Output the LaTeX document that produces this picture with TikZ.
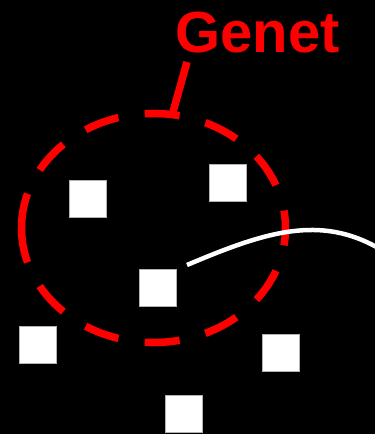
\documentclass[tikz,border=0pt]{standalone}
\usepackage{fontspec}
\setmainfont{Liberation Sans}
\begin{document}
\begin{tikzpicture}[x=1pt,y=-1pt,
  sq/.style={draw=gray!60,line width=0.8pt,fill=white,minimum size=37pt,inner sep=0pt,outer sep=0pt},
  redline/.style={draw=red,line width=7.5pt},
  whiteline/.style={draw=white,line width=4.5pt}]
\fill[black] (0,0) rectangle (375,434);
\useasboundingbox (0,0) rectangle (375,434);
\clip (0,0) rectangle (375,434);
% squares
\node[sq] (a) at (87.7,199) {};
\node[sq] (b) at (228,182.7) {};
\node[sq] (c) at (157.7,288) {};
\node[sq] (d) at (37.8,345) {};
\node[sq] (e) at (281.3,352.7) {};
\node[sq] (f) at (184.3,413.5) {};
% genet ellipse
\coordinate (ecenter) at (153.5,228);
\draw[redline,dash pattern=on 35pt off 26.7pt] (21.5,228) arc[start angle=180,end angle=-180,x radius=132pt,y radius=114.5pt];
% label
\node[anchor=base,text=red,font=\fontsize{58}{60}\selectfont\bfseries,inner sep=0pt] (genet) at (257.5,52) {Genet};
\coordinate (stemtop) at (187,62);
\coordinate (stembot) at (173,112);
\draw[redline] (stemtop) -- (stembot);
% white curve
\coordinate (cstart) at (187,265);
\coordinate (cend) at (380,249);
\draw[whiteline] (cstart) .. controls (265,232) and (320,214) .. (cend);
\end{tikzpicture}
\end{document}
